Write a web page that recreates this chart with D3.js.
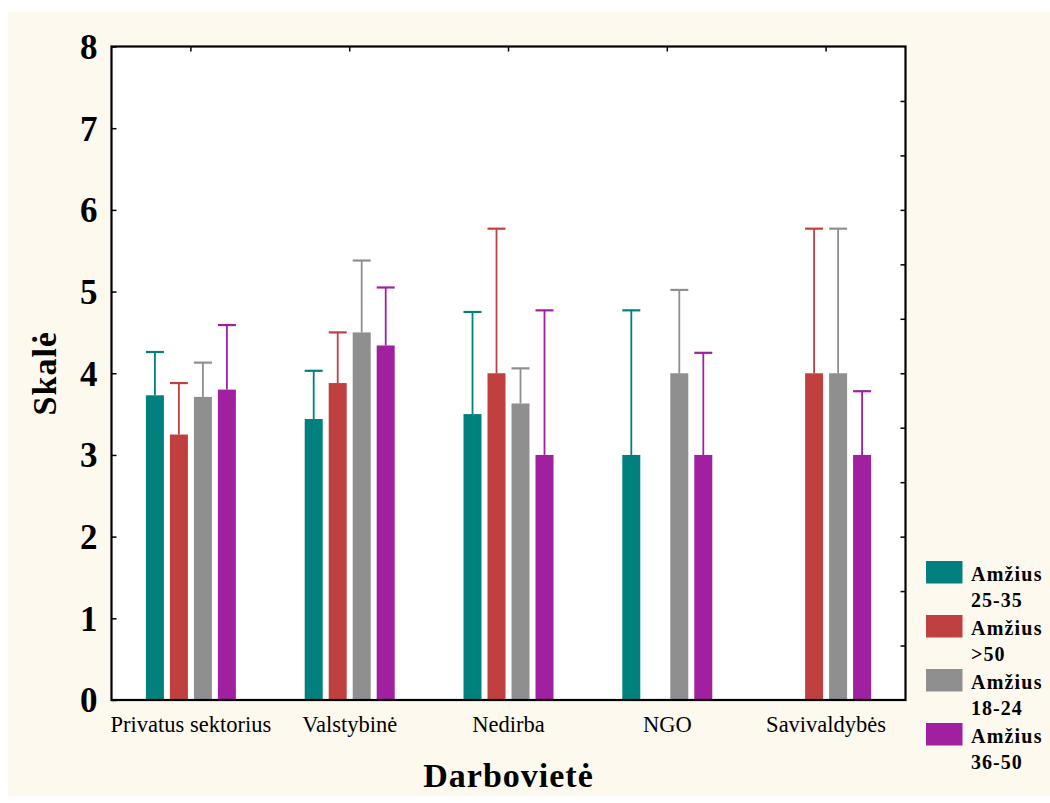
<!DOCTYPE html>
<html>
    <head>
        <title>Skalė pagal darbovietę</title>
        <style>
            body, html {
              margin: 0;
              padding: 0;
              background: #ffffff;
            }
            text {
              font-family: "Liberation Serif", "Times New Roman", serif;
            }
        </style>
    </head>
    <body>

        <svg id="svg" width="1050" height="803"></svg>

        <script src="https://d3js.org/d3.v7.min.js"></script>
        <script>
            // chart data
            const categories = ['Privatus sektorius', 'Valstybinė', 'Nedirba', 'NGO', 'Savivaldybės']
            const seriesNames = ['Amžius 25-35', 'Amžius >50', 'Amžius 18-24', 'Amžius 36-50']
            const seriesColors = ['#00807e', '#c04040', '#8f8f8f', '#a020a0']

            // means (null = no bar)
            const age2535 = [3.73, 3.44, 3.50, 3.00, null]
            const age50 = [3.25, 3.88, 4.00, null, 4.00]
            const age1824 = [3.71, 4.50, 3.63, 4.00, 4.00]
            const age3650 = [3.80, 4.34, 3.00, 3.00, 3.00]

            // upper ends of the error bars
            const err2535 = [4.26, 4.03, 4.75, 4.77, null]
            const err50 = [3.88, 4.50, 5.77, null, 5.77]
            const err1824 = [4.13, 5.38, 4.06, 5.02, 5.77]
            const err3650 = [4.59, 5.05, 4.77, 4.25, 3.78]

            const yTicks = [0, 1, 2, 3, 4, 5, 6, 7, 8]

            const means = [age2535, age50, age1824, age3650]
            const errs = [err2535, err50, err1824, err3650]

            const rows = []
            categories.forEach((c, ci) => {
                seriesNames.forEach((s, si) => {
                    if (means[si][ci] != null) {
                        rows.push({ cat: c, series: s, color: seriesColors[si], mean: means[si][ci], err: errs[si][ci] })
                    }
                })
            })

            const margin = { top: 46.5, right: 144.5, bottom: 103, left: 111.5 }
            const W = 1050, H = 803
            const width = W - margin.left - margin.right
            const height = H - margin.top - margin.bottom

            const svg = d3.select('#svg')

            // cream panel
            svg.append('rect')
                .attr('x', 8).attr('y', 12)
                .attr('width', 1042).attr('height', 784)
                .attr('fill', '#fdf9ef')

            // plot area
            svg.append('rect')
                .attr('x', margin.left).attr('y', margin.top)
                .attr('width', width).attr('height', height)
                .attr('fill', '#ffffff')

            const x0 = d3.scaleBand()
                .domain(categories)
                .range([margin.left, margin.left + width])

            const x1 = d3.scaleBand()
                .domain(seriesNames)
                .range([-45, 45])
                .paddingInner(0.25)

            const yscale = d3.scaleLinear()
                .domain([0, 8])
                .range([margin.top + height, margin.top])

            const barGroup = svg.append('g')

            barGroup.selectAll('rect')
                .data(rows)
                .enter()
                .append('rect')
                .attr('x', d => x0(d.cat) + x0.bandwidth() / 2 + x1(d.series))
                .attr('y', d => yscale(d.mean))
                .attr('width', x1.bandwidth())
                .attr('height', d => yscale(0) - yscale(d.mean))
                .attr('fill', d => d.color)

            // error bars (upper only)
            const errGroup = svg.append('g')
            const cx = d => x0(d.cat) + x0.bandwidth() / 2 + x1(d.series) + x1.bandwidth() / 2
            errGroup.selectAll('line.stem')
                .data(rows)
                .enter()
                .append('line')
                .attr('class', 'stem')
                .attr('x1', cx).attr('x2', cx)
                .attr('y1', d => yscale(d.mean))
                .attr('y2', d => yscale(d.err))
                .attr('stroke', d => d.color)
                .attr('stroke-width', 1.8)
            errGroup.selectAll('line.cap')
                .data(rows)
                .enter()
                .append('line')
                .attr('class', 'cap')
                .attr('x1', d => cx(d) - x1.bandwidth() / 2)
                .attr('x2', d => cx(d) + x1.bandwidth() / 2)
                .attr('y1', d => yscale(d.err))
                .attr('y2', d => yscale(d.err))
                .attr('stroke', d => d.color)
                .attr('stroke-width', 2.2)

            // left axis, ticks inside
            const leftAxis = d3.axisLeft(yscale)
                .tickValues(yTicks)
                .tickSize(-5)
                .tickPadding(14)
            const gl = svg.append('g')
                .attr('transform', `translate(${margin.left}, 0)`)
                .call(leftAxis)
            gl.select('.domain').remove()
            gl.selectAll('text')
                .attr('font-size', 35)
                .attr('font-weight', 'bold')
                .attr('font-family', '"Liberation Serif", serif')
                .attr('fill', '#000')
                .attr('dy', '0.34em')

            // right axis, 12 intervals
            const yRight = d3.scaleLinear().domain([0, 12]).range([margin.top + height, margin.top])
            const rightAxis = d3.axisRight(yRight)
                .tickValues(d3.range(1, 12))
                .tickSize(-5)
                .tickFormat('')
            const gr = svg.append('g')
                .attr('transform', `translate(${margin.left + width}, 0)`)
                .call(rightAxis)
            gr.select('.domain').remove()

            // top axis at category centres
            const topAxis = d3.axisTop(x0)
                .tickSize(-5)
                .tickFormat('')
            const gt = svg.append('g')
                .attr('transform', `translate(0, ${margin.top})`)
                .call(topAxis)
            gt.select('.domain').remove()

            // bottom axis labels
            const bottomAxis = d3.axisBottom(x0).tickSize(0).tickPadding(16)
            const gb = svg.append('g')
                .attr('transform', `translate(0, ${margin.top + height})`)
                .call(bottomAxis)
            gb.select('.domain').remove()
            gb.selectAll('text')
                .attr('font-size', 22.5)
                .attr('font-family', '"Liberation Serif", serif')
                .attr('fill', '#000')

            svg.selectAll('.tick line').attr('stroke', '#000').attr('stroke-width', 1.5)

            // frame
            svg.append('rect')
                .attr('x', margin.left).attr('y', margin.top)
                .attr('width', width).attr('height', height)
                .attr('fill', 'none')
                .attr('stroke', '#000')
                .attr('stroke-width', 2.2)

            // axis titles
            svg.append('text')
                .attr('x', margin.left + width / 2)
                .attr('y', 787)
                .attr('text-anchor', 'middle')
                .attr('font-size', 34)
                .attr('font-weight', 'bold')
                .attr('letter-spacing', 1)
                .text('Darbovietė')

            svg.append('text')
                .attr('transform', `translate(56, ${margin.top + height / 2}) rotate(-90)`)
                .attr('text-anchor', 'middle')
                .attr('font-size', 34)
                .attr('font-weight', 'bold')
                .attr('letter-spacing', 1)
                .text('Skalė')

            // legend
            const legend = svg.append('g').attr('transform', 'translate(926, 561)')
            const items = legend.selectAll('g')
                .data(seriesNames)
                .enter()
                .append('g')
                .attr('transform', (d, i) => `translate(0, ${i * 54})`)
            items.append('rect')
                .attr('width', 36.5).attr('height', 22.5)
                .attr('fill', (d, i) => seriesColors[i])
            items.append('text')
                .attr('x', 45).attr('y', 20)
                .attr('font-size', 20)
                .attr('font-weight', 'bold')
                .attr('letter-spacing', 1.2)
                .text(d => d.split(' ')[0])
            items.append('text')
                .attr('x', 45).attr('y', 46)
                .attr('font-size', 20)
                .attr('font-weight', 'bold')
                .attr('letter-spacing', 1)
                .text(d => d.split(' ')[1])
        </script>
    </body>
</html>
